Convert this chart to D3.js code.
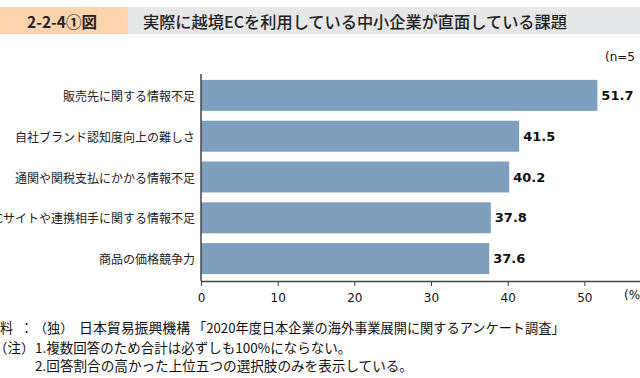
<!DOCTYPE html>
<html><head><meta charset="utf-8">
<script src="https://cdn.jsdelivr.net/npm/d3@7"></script>
<style>
html,body{margin:0;padding:0;background:#fff;}
svg{display:block;}
</style></head>
<body>
<svg id="chart" width="640" height="378"></svg>
<script>
const figNo = "2-2-4①図";
const title = "実際に越境ECを利用している中小企業が直面している課題";
const categories = ["販売先に関する情報不足","自社ブランド認知度向上の難しさ","通関や関税支払にかかる情報不足","ECサイトや連携相手に関する情報不足","商品の価格競争力"];
const values = [51.7, 41.5, 40.2, 37.8, 37.6];
const xTicks = [0,10,20,30,40,50,60];
const nLabel = "(n=5";
const unitLabel = "(%";
const note1 = ["資料", "：", "（独）", "日本貿易振興機構", "「2020年度日本企業の海外事業展開に関するアンケート調査」"];
const note2 = ["（注）", "1.複数回答のため合計は必ずしも100%にならない。"];
const note3 = ["2.回答割合の高かった上位五つの選択肢のみを表示している。"];

const svg = d3.select("#chart");
const jp = "'Noto Sans CJK JP','Noto Sans',sans-serif";
const num = "'DejaVu Sans',Verdana,sans-serif";

// header
svg.append("rect").attr("x",0).attr("y",7).attr("width",128).attr("height",27).attr("fill","#fdd4ad");
svg.append("rect").attr("x",128).attr("y",7).attr("width",512).attr("height",27).attr("fill","#e6e7e9");
svg.append("text").attr("x",27).attr("y",21).attr("dominant-baseline","central")
  .attr("font-family",jp).attr("font-weight",700).attr("font-size",15.5).attr("fill","#222").text(figNo);
svg.append("text").attr("x",143).attr("y",20.5).attr("dominant-baseline","central")
  .attr("font-family",jp).attr("font-weight",500).attr("font-size",16.2).attr("fill","#222").text(title);

// scales
const x = d3.scaleLinear().domain([0,60]).range([201,661]);
const y = d3.scaleBand().domain(categories).range([75,279]).paddingInner(0.24).paddingOuter(0.12);
const axisY = 281;

// bars
svg.append("g").selectAll("rect").data(values).join("rect")
  .attr("x", x(0)).attr("y",(d,i)=>y(categories[i]))
  .attr("width", d=>x(d)-x(0)).attr("height", y.bandwidth())
  .attr("fill","#7f9fbf");

// value labels
svg.append("g").selectAll("text").data(values).join("text")
  .attr("x", d=>x(d)+4).attr("y",(d,i)=>y(categories[i])+y.bandwidth()/2)
  .attr("dominant-baseline","central")
  .attr("font-family",num).attr("font-weight",700).attr("font-size",13).attr("fill","#111")
  .text(d=>d.toFixed(1));

// category labels
svg.append("g").selectAll("text").data(categories).join("text")
  .attr("x",195).attr("y",d=>y(d)+y.bandwidth()/2)
  .attr("text-anchor","end").attr("dominant-baseline","central")
  .attr("font-family",jp).attr("font-size",12).attr("fill","#222").text(d=>d);

// x axis
const xa = svg.append("g").attr("transform",`translate(0,${axisY})`)
  .call(d3.axisBottom(x).tickValues(xTicks).tickSize(5).tickSizeOuter(0).tickFormat(d3.format("d")));
xa.select(".domain").attr("stroke","#444").attr("stroke-width",1.3);
xa.selectAll(".tick line").attr("stroke","#444");
xa.selectAll(".tick text").attr("font-family",num).attr("font-size",12).attr("fill","#111").attr("dy","1.05em");

// y axis line
svg.append("line").attr("x1",x(0)).attr("x2",x(0)).attr("y1",74).attr("y2",axisY)
  .attr("stroke","#444").attr("stroke-width",1.5);

// n label & unit
svg.append("text").attr("x",605).attr("y",57).attr("dominant-baseline","central")
  .attr("font-family",num).attr("font-size",12).attr("fill","#111").text(nLabel);
svg.append("text").attr("x",624).attr("y",299)
  .attr("font-family",num).attr("font-size",12).attr("fill","#111").text(unitLabel);

// notes
function noteLine(parts, xs, yc, fs, sizes) {
  const t = svg.append("text").attr("y",yc).attr("dominant-baseline","central")
    .attr("font-family",jp).attr("font-size",fs).attr("fill","#111");
  t.selectAll("tspan").data(parts).join("tspan").attr("x",(d,i)=>xs[i])
    .attr("font-size",(d,i)=>sizes ? sizes[i] : fs).text(d=>d);
}
noteLine(note1, [-13, 20, 34, 79, 193], 326.5, 13.1, [13.1, 13.1, 13.1, 13.9, 13.2]);
noteLine(note2, [-6, 35], 346.5, 13.5);
noteLine(note3, [35], 365, 13.6);
</script>
</body></html>
